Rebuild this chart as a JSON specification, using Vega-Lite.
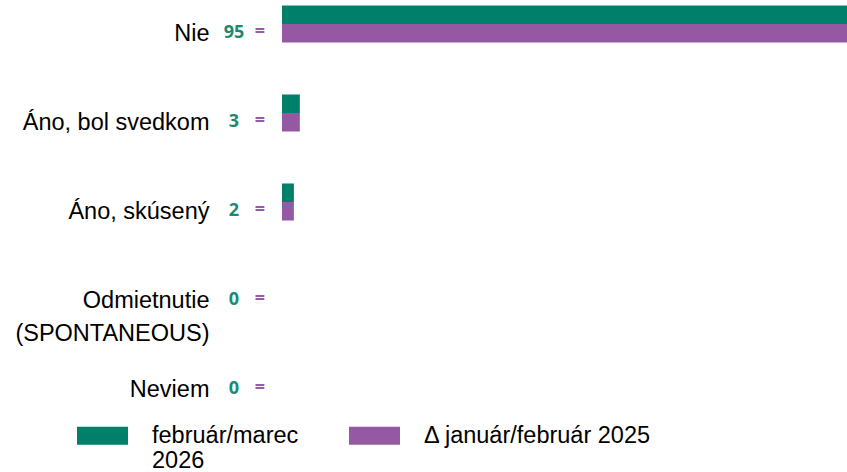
{
  "$schema": "https://vega.github.io/schema/vega-lite/v6.json",
  "width": 565,
  "height": 404,
  "autosize": {"type": "none"},
  "padding": {"left": 282, "top": 0, "right": 0, "bottom": 68},
  "background": "white",
  "config": {"view": {"stroke": null}, "font": "Liberation Sans"},
  "data": {"values": [
    {"cat": "Nie", "series": "február/marec 2026", "value": 95},
    {"cat": "Nie", "series": "Δ január/február 2025", "value": 95},
    {"cat": "Áno, bol svedkom", "series": "február/marec 2026", "value": 3},
    {"cat": "Áno, bol svedkom", "series": "Δ január/február 2025", "value": 3},
    {"cat": "Áno, skúsený", "series": "február/marec 2026", "value": 2},
    {"cat": "Áno, skúsený", "series": "Δ január/február 2025", "value": 2},
    {"cat": "Odmietnutie (SPONTANEOUS)", "series": "február/marec 2026", "value": 0},
    {"cat": "Odmietnutie (SPONTANEOUS)", "series": "Δ január/február 2025", "value": 0},
    {"cat": "Neviem", "series": "február/marec 2026", "value": 0},
    {"cat": "Neviem", "series": "Δ január/február 2025", "value": 0}
  ]},
  "encoding": {
    "y": {
      "field": "cat",
      "type": "nominal",
      "sort": ["Nie", "Áno, bol svedkom", "Áno, skúsený", "Odmietnutie (SPONTANEOUS)", "Neviem"],
      "scale": {"paddingInner": 0.584, "paddingOuter": 0.0618},
      "axis": {
        "title": null,
        "domain": false,
        "ticks": false,
        "labelFontSize": 23.5,
        "labelColor": "black",
        "labelPadding": 73,
        "labelLimit": 300,
        "labelOffset": 10,
        "labelLineHeight": 33,
        "labelExpr": "datum.value == 'Odmietnutie (SPONTANEOUS)' ? ['Odmietnutie', '(SPONTANEOUS)'] : datum.value"
      }
    }
  },
  "layer": [
    {
      "mark": {"type": "bar"},
      "encoding": {
        "x": {"field": "value", "type": "quantitative", "scale": {"domain": [0, 95], "nice": false}, "axis": null},
        "yOffset": {
          "field": "series",
          "sort": ["február/marec 2026", "Δ január/február 2025"],
          "scale": {"paddingInner": 0, "paddingOuter": 0}
        },
        "color": {
          "field": "series",
          "type": "nominal",
          "scale": {"domain": ["február/marec 2026", "Δ január/február 2025"], "range": ["#00806a", "#9559a3"]},
          "legend": {
            "title": null,
            "orient": "none",
            "legendX": -205,
            "legendY": 410,
            "direction": "horizontal",
            "symbolType": "M-1,-0.353L1,-0.353L1,0.353L-1,0.353Z",
            "symbolSize": 2601,
            "symbolStrokeWidth": 0,
            "symbolOpacity": 1,
            "labelFontSize": 23.5,
            "labelColor": "black",
            "labelLimit": 400,
            "labelOffset": 24,
            "columnPadding": 50,
            "labelLineHeight": 24,
            "labelExpr": "datum.label == 'február/marec 2026' ? ['február/marec', '2026'] : [datum.label, '']"
          }
        }
      }
    },
    {
      "transform": [{"filter": "datum.series == 'február/marec 2026'"}],
      "mark": {"type": "text", "dx": -48, "dy": 9, "align": "center", "baseline": "middle", "font": "Open Sans", "fontWeight": "bold", "fontSize": 18, "color": "#1a8a73"},
      "encoding": {
        "x": {"datum": 0, "type": "quantitative"},
        "text": {"field": "value", "type": "quantitative"}
      }
    },
    {
      "transform": [{"filter": "datum.series == 'február/marec 2026'"}],
      "mark": {"type": "text", "text": "=", "dx": -22, "dy": 8, "align": "center", "baseline": "middle", "font": "Open Sans", "fontWeight": "bold", "fontSize": 18, "color": "#9a5aa5"},
      "encoding": {
        "x": {"datum": 0, "type": "quantitative"}
      }
    }
  ]
}
